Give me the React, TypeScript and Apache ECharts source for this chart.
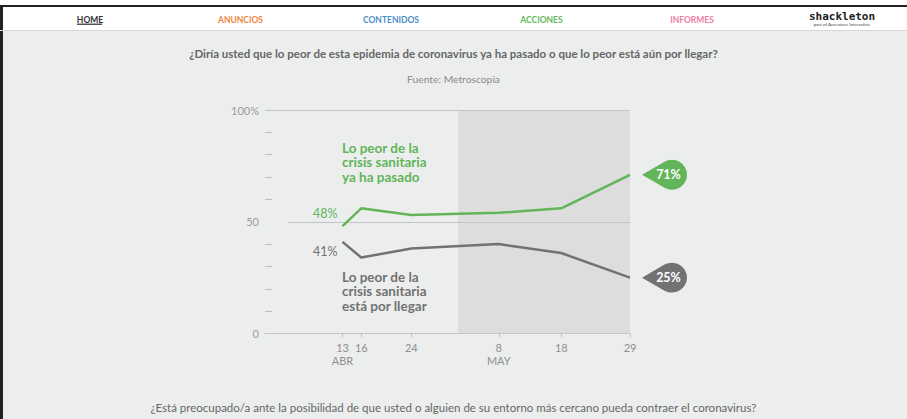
import React, { useEffect, useRef } from 'react';
import * as echarts from 'echarts';

// Days counted from 13 April 2020
const dayOffsets = [0, 3, 11, 25, 35, 46];
const dateLabels = ['13\nABR', '16', '24', '8\nMAY', '18', '29'];
const pasadoValues = [48, 56, 53, 54, 56, 71];
const porLlegarValues = [41, 34, 38, 40, 36, 25];
const yLabelValues = [0, 50, 100];
const yMinorTicks = [10, 20, 30, 40, 60, 70, 80, 90];
const shadeStartDay = 18.5;
const axisStartDay = -12.4;
const midLineStartDay = -8.7;

const navItems = ['HOME', 'ANUNCIOS', 'CONTENIDOS', 'ACCIONES', 'INFORMES'];
const navColors = ['#333333', '#f0843f', '#4a8fc9', '#66b85a', '#ef7ea3'];

const FONT = 'Lato, "Open Sans", sans-serif';
const GREEN = '#62b55a';
const GRAY = '#727273';

const badgePath = 'path://M0 0 L22.5 -13 A15 15 0 1 1 22.5 13 Z';

function buildSeriesData(values: number[], color: string, offsetY: number) {
  return values.map((v, i) => ({
    value: [dayOffsets[i], v],
    label:
      i === 0
        ? {
            show: true,
            position: 'left',
            distance: 5,
            offset: [0, offsetY],
            formatter: `${v}%`,
            color,
            fontSize: 12.5,
            fontFamily: FONT,
          }
        : { show: false },
  }));
}

function badge(values: number[], color: string) {
  const last = values.length - 1;
  return {
    silent: true,
    symbol: badgePath,
    symbolSize: [45, 30],
    symbolOffset: [34.5, 0],
    itemStyle: { color },
    label: {
      show: true,
      position: 'inside',
      formatter: '{c}%',
      color: '#ffffff',
      fontWeight: 'bold',
      fontSize: 12.5,
      fontFamily: FONT,
      offset: [4, 0],
    },
    data: [{ coord: [dayOffsets[last], values[last]], value: values[last] }],
  };
}

export default function App() {
  const ref = useRef<HTMLDivElement>(null);
  useEffect(() => {
    document.body.style.margin = '0';
    const chart = echarts.init(ref.current!, null, { renderer: 'svg' });
    const navGraphics: any[] = navItems.map((t, i) => ({
      type: 'text',
      x: 90 + i * 150.5,
      y: 19.5,
      z: 10,
      style: {
        text: t,
        align: 'center',
        verticalAlign: 'middle',
        fill: navColors[i],
        fontSize: 8.5,
        fontWeight: 'bold',
        fontFamily: FONT,
      },
    }));
    chart.setOption({
      animation: false,
      backgroundColor: '#eceeed',
      textStyle: { fontFamily: FONT },
      graphic: [
        { type: 'rect', shape: { x: 0, y: 0, width: 907, height: 30 }, style: { fill: '#ffffff' }, z: 1 },
        { type: 'rect', shape: { x: 0, y: 5, width: 907, height: 2 }, style: { fill: '#222222' }, z: 2 },
        { type: 'rect', shape: { x: 0, y: 5, width: 3, height: 414 }, style: { fill: '#222222' }, z: 2 },
        { type: 'rect', shape: { x: 0, y: 30, width: 907, height: 1 }, style: { fill: '#d6d8d7' }, z: 2 },
        ...navGraphics,
        { type: 'rect', shape: { x: 77, y: 23.5, width: 25, height: 1.5 }, style: { fill: '#555555' }, z: 10 },
        {
          type: 'text',
          x: 842,
          y: 16,
          z: 10,
          style: {
            text: 'shackleton',
            align: 'center',
            verticalAlign: 'middle',
            fill: '#222222',
            fontSize: 11,
            fontWeight: 'bold',
            fontFamily: '"DejaVu Sans Mono", monospace',
          },
        },
        {
          type: 'text',
          x: 842,
          y: 24.5,
          z: 10,
          style: {
            text: 'part of Accenture Interactive',
            align: 'center',
            verticalAlign: 'middle',
            fill: '#444444',
            fontSize: 4.5,
            fontFamily: FONT,
          },
        },
        {
          type: 'text',
          left: 342,
          top: 141,
          z: 10,
          style: {
            text: 'Lo peor de la\ncrisis sanitaria\nya ha pasado',
            fill: GREEN,
            fontSize: 13.5,
            lineHeight: 14.2,
            fontWeight: 'bold',
            fontFamily: FONT,
          },
        },
        {
          type: 'text',
          left: 342,
          top: 270,
          z: 10,
          style: {
            text: 'Lo peor de la\ncrisis sanitaria\nestá por llegar',
            fill: GRAY,
            fontSize: 13.5,
            lineHeight: 14.2,
            fontWeight: 'bold',
            fontFamily: FONT,
          },
        },
      ],
      title: [
        {
          text: '¿Diría usted que lo peor de esta epidemia de coronavirus ya ha pasado o que lo peor está aún por llegar?',
          left: 'center',
          top: 42,
          textStyle: { fontSize: 11.5, fontWeight: 'bold', color: '#666666', fontFamily: FONT },
        },
        {
          text: 'Fuente: Metroscopia',
          left: 'center',
          top: 69,
          textStyle: { fontSize: 10.3, fontWeight: 'normal', color: '#8a8a8a', fontFamily: FONT },
        },
        {
          text: '¿Está preocupado/a ante la posibilidad de que usted o alguien de su entorno más cercano pueda contraer el coronavirus?',
          left: 'center',
          top: 396,
          textStyle: { fontSize: 11.5, fontWeight: 'normal', color: '#666666', fontFamily: FONT },
        },
      ],
      grid: { left: 265, right: 277, top: 110, bottom: 85.5 },
      xAxis: {
        type: 'value',
        min: axisStartDay,
        max: dayOffsets[dayOffsets.length - 1],
        splitLine: { show: false },
        axisLine: { show: true, onZero: false, lineStyle: { color: '#c6c6c6', width: 1 } },
        axisTick: { show: true, customValues: dayOffsets, length: 4, lineStyle: { color: '#bdbdbd' } },
        axisLabel: {
          customValues: dayOffsets,
          formatter: (v: number) => dateLabels[dayOffsets.indexOf(v)] ?? '',
          color: '#8e8e8e',
          fontSize: 11,
          lineHeight: 12.5,
          margin: 8,
          fontFamily: FONT,
        },
      },
      yAxis: {
        type: 'value',
        min: 0,
        max: 100,
        splitLine: { show: false },
        axisLine: { show: false, onZero: false },
        axisTick: {
          show: true,
          inside: true,
          length: 7,
          customValues: yMinorTicks,
          lineStyle: { color: '#bdbdbd' },
        },
        axisLabel: {
          customValues: yLabelValues,
          formatter: (v: number) => (v === 100 ? '100%' : String(v)),
          color: '#9a9a9a',
          fontSize: 11,
          margin: 6,
          fontFamily: FONT,
        },
      },
      series: [
        {
          type: 'line',
          name: 'ref',
          data: [],
          z: 1,
          markArea: {
            silent: true,
            z: 0,
            itemStyle: { color: '#dcdddc' },
            data: [[{ xAxis: shadeStartDay, yAxis: 0 }, { xAxis: dayOffsets[dayOffsets.length - 1], yAxis: 100 }]],
          },
          markLine: {
            silent: true,
            z: 1,
            symbol: 'none',
            label: { show: false },
            lineStyle: { color: '#c4c4c4', width: 1, type: 'solid' },
            data: [
              { yAxis: 100 },
              [{ coord: [midLineStartDay, 50] }, { coord: [dayOffsets[dayOffsets.length - 1], 50] }],
            ],
          },
        },
        {
          type: 'line',
          name: 'Lo peor de la crisis sanitaria ya ha pasado',
          z: 3,
          data: buildSeriesData(pasadoValues, GREEN, -13),
          symbol: 'circle',
          symbolSize: 0,
          showSymbol: true,
          lineStyle: { color: GREEN, width: 2.5 },
          itemStyle: { color: GREEN },
          markPoint: badge(pasadoValues, GREEN),
        },
        {
          type: 'line',
          name: 'Lo peor de la crisis sanitaria está por llegar',
          z: 3,
          data: buildSeriesData(porLlegarValues, GRAY, 10),
          symbol: 'circle',
          symbolSize: 0,
          showSymbol: true,
          lineStyle: { color: GRAY, width: 2.5 },
          itemStyle: { color: GRAY },
          markPoint: badge(porLlegarValues, GRAY),
        },
      ],
    });
    return () => chart.dispose();
  }, []);
  return <div ref={ref} style={{ width: 907, height: 419 }} />;
}
